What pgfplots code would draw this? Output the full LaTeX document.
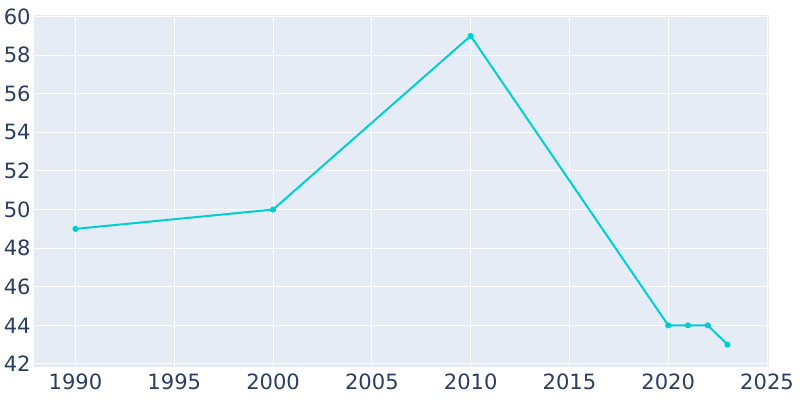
\documentclass[border=0pt]{standalone}
\usepackage{pgfplots}
\pgfplotsset{compat=1.18}
\usepackage{fontspec}
\setmainfont{DejaVu Sans}
\definecolor{bgc}{HTML}{E5ECF6}
\definecolor{txt}{HTML}{2A3F5F}
\definecolor{linec}{HTML}{00CED1}
\begin{document}
\begin{tikzpicture}
\useasboundingbox (0,0) rectangle (600pt,300pt);
\begin{axis}[
  at={(25.5pt,25pt)}, anchor=south west,
  scale only axis, width=551.25pt, height=264pt,
  xmin=1987.9, xmax=2025.1, ymin=41.86, ymax=60.1,
  xtick={1990,1995,...,2025}, ytick={42,44,...,60},
  axis background/.style={fill=bgc},
  axis line style={draw=none},
  major tick length=0pt,
  grid=major, major grid style={white, line width=0.75pt},
  tick label style={font=\fontsize{15.8}{18}\selectfont, text=txt},
  /pgf/number format/assume math mode=true,
  /pgf/number format/1000 sep={},
  xticklabel style={yshift=-2pt},
  yticklabel style={xshift=1pt},
]
\addplot[color=linec, line width=1.5pt, mark=*, mark size=1.5pt, mark options={fill=linec, draw=linec}] coordinates {
(1990,49) (2000,50) (2010,59) (2020,44) (2021,44) (2022,44) (2023,43)
};
\end{axis}
\end{tikzpicture}
\end{document}
